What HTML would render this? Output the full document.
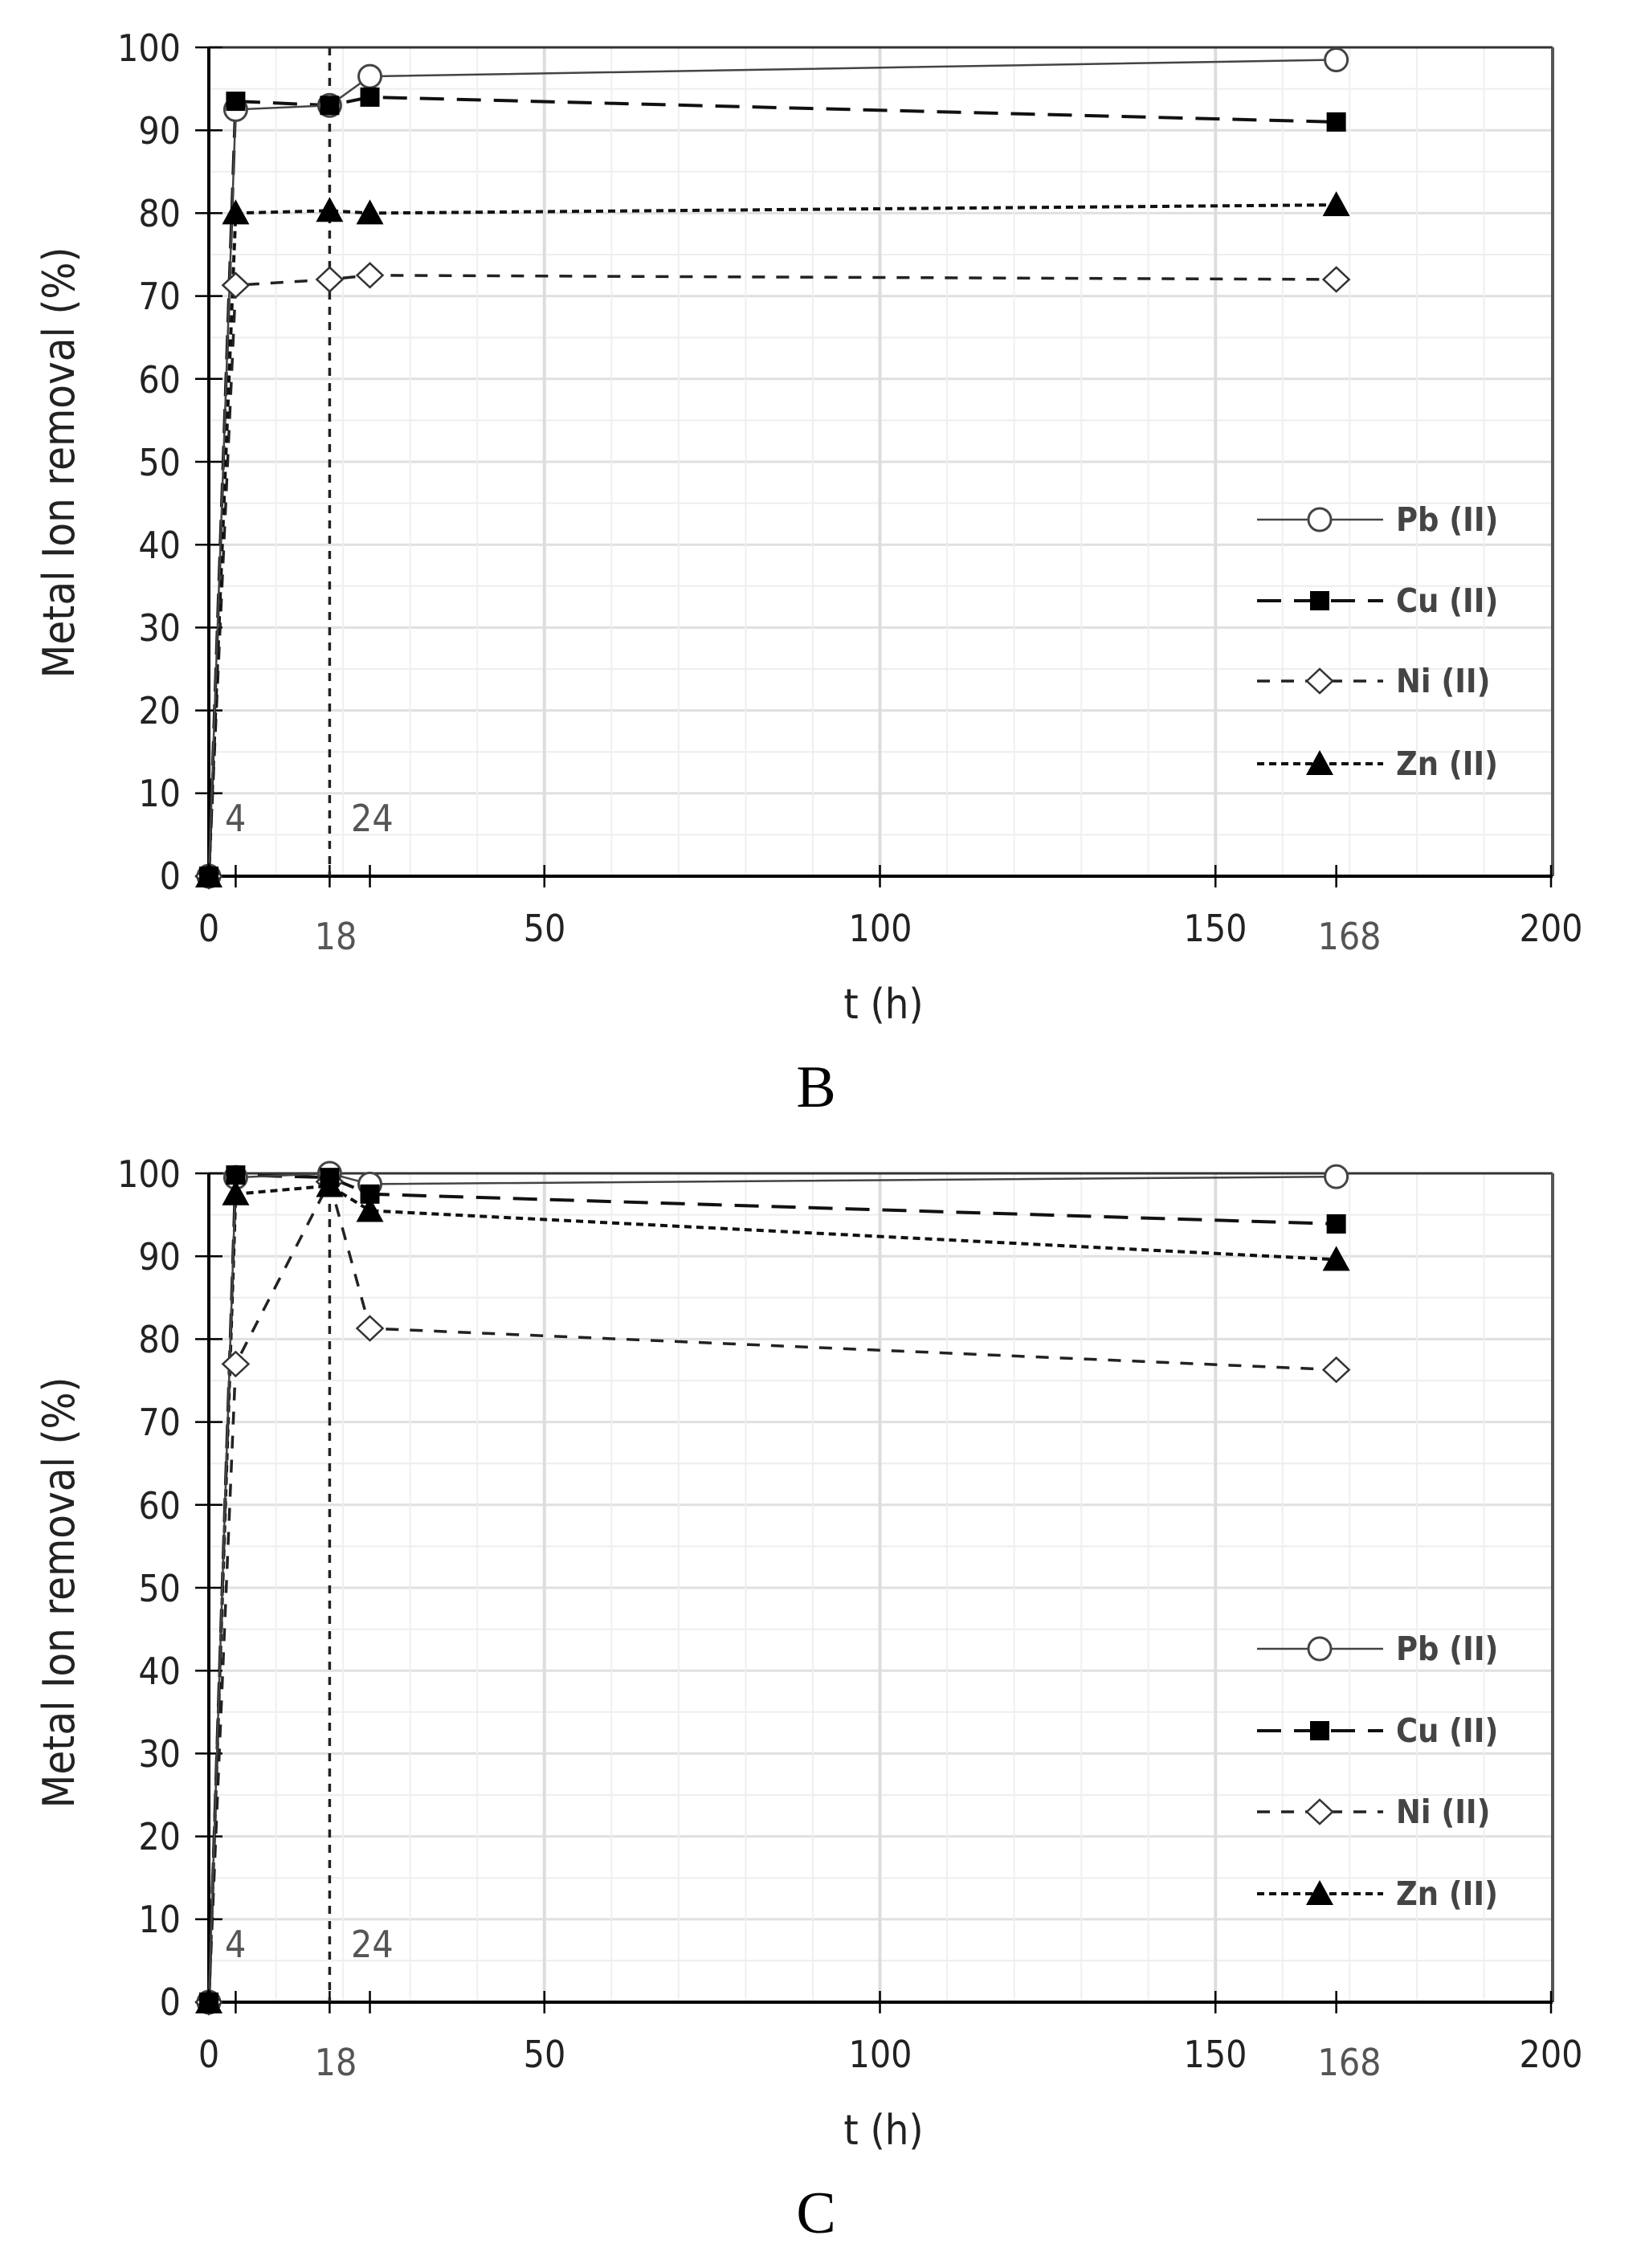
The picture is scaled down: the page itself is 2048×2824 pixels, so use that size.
<!DOCTYPE html>
<html><head><meta charset="utf-8"><style>
html,body{margin:0;padding:0;background:#fff;}
svg{display:block;}
text{font-family:"DejaVu Sans Condensed","Liberation Sans Narrow","Liberation Sans",sans-serif;}
.t{font-size:46px;fill:#222;}
.g{font-size:46px;fill:#555;}
.ax{font-size:52px;fill:#222;}
.yt{font-size:54px;fill:#222;}
.lg{font-size:41px;fill:#444;font-weight:bold;}
.cap{font-family:"Liberation Serif",serif;font-size:74px;fill:#000;}
</style></head><body>
<svg width="2048" height="2824" viewBox="0 0 2048 2824" xmlns="http://www.w3.org/2000/svg">
<g id="B"></g>
<g id="C"></g>
<g>
<text class="t" x="225" y="76" text-anchor="end">100</text>
<text class="t" x="225" y="179" text-anchor="end">90</text>
<text class="t" x="225" y="282" text-anchor="end">80</text>
<text class="t" x="225" y="385" text-anchor="end">70</text>
<text class="t" x="225" y="489" text-anchor="end">60</text>
<text class="t" x="225" y="592" text-anchor="end">50</text>
<text class="t" x="225" y="695" text-anchor="end">40</text>
<text class="t" x="225" y="798" text-anchor="end">30</text>
<text class="t" x="225" y="901" text-anchor="end">20</text>
<text class="t" x="225" y="1004" text-anchor="end">10</text>
<text class="t" x="225" y="1107" text-anchor="end">0</text>
<text class="t" x="260" y="1172" text-anchor="middle">0</text>
<text class="g" x="418" y="1182" text-anchor="middle">18</text>
<text class="t" x="678" y="1172" text-anchor="middle">50</text>
<text class="t" x="1096" y="1172" text-anchor="middle">100</text>
<text class="t" x="1513" y="1172" text-anchor="middle">150</text>
<text class="g" x="1680" y="1182" text-anchor="middle">168</text>
<text class="t" x="1931" y="1172" text-anchor="middle">200</text>
<text class="g" x="280" y="1035">4</text>
<text class="g" x="437" y="1035">24</text>
<text class="ax" x="1100" y="1268" text-anchor="middle">t (h)</text>
<text class="yt" x="92" y="576" text-anchor="middle" transform="rotate(-90 92 576)">Metal Ion removal (%)</text>
<text class="lg" x="1738" y="661">Pb (II)</text>
<text class="lg" x="1738" y="762">Cu (II)</text>
<text class="lg" x="1738" y="862">Ni (II)</text>
<text class="lg" x="1738" y="965">Zn (II)</text>
<text class="cap" x="1016" y="1378" text-anchor="middle">B</text>
</g>
<g>
<text class="t" x="225" y="1478" text-anchor="end">100</text>
<text class="t" x="225" y="1581" text-anchor="end">90</text>
<text class="t" x="225" y="1684" text-anchor="end">80</text>
<text class="t" x="225" y="1787" text-anchor="end">70</text>
<text class="t" x="225" y="1891" text-anchor="end">60</text>
<text class="t" x="225" y="1994" text-anchor="end">50</text>
<text class="t" x="225" y="2097" text-anchor="end">40</text>
<text class="t" x="225" y="2200" text-anchor="end">30</text>
<text class="t" x="225" y="2303" text-anchor="end">20</text>
<text class="t" x="225" y="2406" text-anchor="end">10</text>
<text class="t" x="225" y="2509" text-anchor="end">0</text>
<text class="t" x="260" y="2574" text-anchor="middle">0</text>
<text class="g" x="418" y="2584" text-anchor="middle">18</text>
<text class="t" x="678" y="2574" text-anchor="middle">50</text>
<text class="t" x="1096" y="2574" text-anchor="middle">100</text>
<text class="t" x="1513" y="2574" text-anchor="middle">150</text>
<text class="g" x="1680" y="2584" text-anchor="middle">168</text>
<text class="t" x="1931" y="2574" text-anchor="middle">200</text>
<text class="g" x="280" y="2437">4</text>
<text class="g" x="437" y="2437">24</text>
<text class="ax" x="1100" y="2670" text-anchor="middle">t (h)</text>
<text class="yt" x="92" y="1983" text-anchor="middle" transform="rotate(-90 92 1983)">Metal Ion removal (%)</text>
<text class="lg" x="1738" y="2067">Pb (II)</text>
<text class="lg" x="1738" y="2169">Cu (II)</text>
<text class="lg" x="1738" y="2270">Ni (II)</text>
<text class="lg" x="1738" y="2372">Zn (II)</text>
<text class="cap" x="1016" y="2780" text-anchor="middle">C</text>
</g>
</svg>
<script>
(function(){
var NS="http://www.w3.org/2000/svg";
function el(p,n,a){var e=document.createElementNS(NS,n);for(var k in a)e.setAttribute(k,a[k]);p.appendChild(e);return e;}
var X=function(t){return 260+8.355*t;};
var styles={
 Pb:{dash:"none",w:2.5,c:"#444"},
 Cu:{dash:"30,16",w:4,c:"#111"},
 Ni:{dash:"16,14",w:3.5,c:"#222"},
 Zn:{dash:"9,6",w:4,c:"#111"}
};
function marker(g,k,x,y){
 if(k=="Pb")el(g,"circle",{cx:x,cy:y,r:14,fill:"#fff",stroke:"#444","stroke-width":3});
 if(k=="Cu")el(g,"rect",{x:x-12,y:y-12,width:24,height:24,fill:"#000"});
 if(k=="Ni")el(g,"polygon",{points:(x)+","+(y-15)+" "+(x+16)+","+y+" "+x+","+(y+15)+" "+(x-16)+","+y,fill:"#fff",stroke:"#333","stroke-width":2.5});
 if(k=="Zn")el(g,"polygon",{points:x+","+(y-17)+" "+(x+17)+","+(y+14)+" "+(x-17)+","+(y+14),fill:"#000"});
}
function panel(id,y0,data,legY){
 var g=document.getElementById(id);
 var Y=function(v){return y0-10.32*v;};
 for(var v=5;v<100;v+=5)el(g,"line",{x1:260,x2:1933,y1:Y(v),y2:Y(v),stroke:v%10?"#eee":"#e0e0e0","stroke-width":v%10?2:3});
 for(var t=10;t<200;t+=10)el(g,"line",{x1:X(t),x2:X(t),y1:Y(100),y2:Y(0),stroke:t%50?"#efefef":"#ddd","stroke-width":t%50?2:4});
 el(g,"line",{x1:260,x2:1933,y1:Y(100),y2:Y(100),stroke:"#333","stroke-width":3});
 el(g,"line",{x1:1933,x2:1933,y1:Y(100),y2:Y(0),stroke:"#555","stroke-width":4});
 el(g,"line",{x1:260,x2:260,y1:Y(100),y2:Y(0),stroke:"#000","stroke-width":4});
 el(g,"line",{x1:260,x2:1933,y1:Y(0),y2:Y(0),stroke:"#000","stroke-width":4});
 for(var v=0;v<=100;v+=10)el(g,"line",{x1:243,x2:277,y1:Y(v),y2:Y(v),stroke:"#000","stroke-width":2.5});
 [0,4,18,24,50,100,150,168,200].forEach(function(t){el(g,"line",{x1:X(t),x2:X(t),y1:Y(0)-14,y2:Y(0)+14,stroke:"#000","stroke-width":2.5});});
 el(g,"line",{x1:X(18),x2:X(18),y1:Y(100),y2:Y(0),stroke:"#222","stroke-width":3.5,"stroke-dasharray":"10,9"});
 var ts=[0,4,18,24,168];
 ["Ni","Zn","Cu","Pb"].forEach(function(k){
  var s=styles[k],pts=data[k].map(function(v,i){return X(ts[i])+","+Y(v);}).join(" ");
  el(g,"polyline",{points:pts,fill:"none",stroke:s.c,"stroke-width":s.w,"stroke-dasharray":s.dash});
 });
 ["Pb","Ni","Zn","Cu"].forEach(function(k){data[k].forEach(function(v,i){marker(g,k,X(ts[i]),Y(v));});});
 ["Pb","Cu","Ni","Zn"].forEach(function(k,i){
  var s=styles[k],y=legY[i];
  el(g,"line",{x1:1565,x2:1722,y1:y,y2:y,stroke:s.c,"stroke-width":s.w,"stroke-dasharray":s.dash});
  marker(g,k,1643,y);
 });
}
panel("B",1091,{Pb:[0,92.5,93,96.5,98.5],Cu:[0,93.5,93,94,91],Ni:[0,71.3,72,72.5,72],Zn:[0,80,80.3,80,81]},[647,748,848,951]);
panel("C",2493,{Pb:[0,99.5,100,98.7,99.6],Cu:[0,99.8,99.5,97.5,93.9],Ni:[0,77,99,81.3,76.3],Zn:[0,97.5,98.5,95.5,89.6]},[2053,2155,2256,2358]);
})();
</script>
</body></html>
